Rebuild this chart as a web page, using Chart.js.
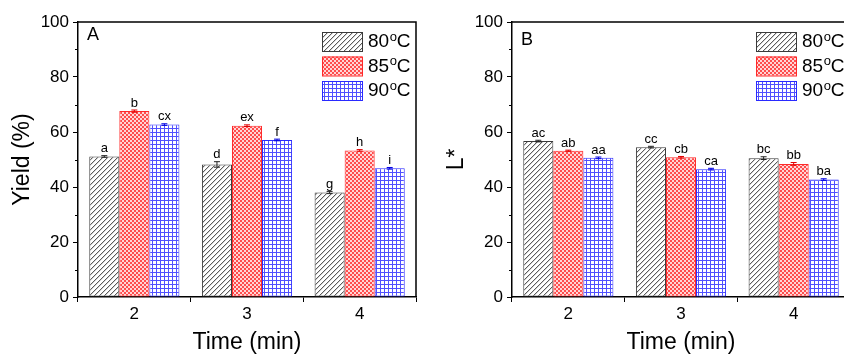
<!DOCTYPE html>
<html>
<head>
<meta charset="utf-8">
<script src="https://cdn.jsdelivr.net/npm/chart.js@4/dist/chart.umd.min.js"></script>
<style>
  html, body { margin:0; padding:0; background:#fff; width:844px; height:356px; overflow:hidden; }
  .panel { position:absolute; top:0; width:420px; height:356px; }
  #pA { left:0; }
  #pB { left:434px; }
</style>
</head>
<body>
<div class="panel" id="pA"><canvas id="cA" width="420" height="356"></canvas></div>
<div class="panel" id="pB"><canvas id="cB" width="420" height="356"></canvas></div>
<script>
// ---------- data ----------
const categories = ['2', '3', '4'];
const temps = ['80', '85', '90'];
const seriesLabels = ['80°C', '85°C', '90°C'];
const yTicks = [0, 20, 40, 60, 80, 100];

// Panel A: Yield (%)
const yield80 = [51.1, 48.2, 38.0];
const yield85 = [67.6, 62.3, 53.3];
const yield90 = [62.7, 57.1, 46.8];
const yieldErr80 = [0.3, 1.0, 0.4];
const yieldErr85 = [0.4, 0.3, 0.3];
const yieldErr90 = [0.3, 0.3, 0.3];
const yieldLetters80 = ['a', 'd', 'g'];
const yieldLetters85 = ['b', 'ex', 'h'];
const yieldLetters90 = ['cx', 'f', 'i'];

// Panel B: L*
const L80 = [56.7, 54.5, 50.5];
const L85 = [53.2, 50.8, 48.4];
const L90 = [50.6, 46.5, 42.7];
const LErr80 = [0.3, 0.3, 0.5];
const LErr85 = [0.2, 0.3, 0.5];
const LErr90 = [0.3, 0.3, 0.3];
const LLetters80 = ['ac', 'cc', 'bc'];
const LLetters85 = ['ab', 'cb', 'bb'];
const LLetters90 = ['aa', 'ca', 'ba'];

// ---------- styles ----------
const FONT = '"Liberation Sans", Arial, sans-serif';
const borderColors = ['#3a3a3a', '#ff2a2a', '#2a2aff'];
const errColors = ['#222222', '#e00000', '#0000e0'];

function makeTile(draw, w, h) {
  const c = document.createElement('canvas');
  c.width = w; c.height = h;
  const x = c.getContext('2d');
  draw(x);
  return c;
}
const hatchTile = makeTile(x => {
  x.fillStyle = '#ffffff'; x.fillRect(0, 0, 5, 5);
  for (let i = 0; i < 5; i++) {
    x.fillStyle = '#5a5a5a'; x.fillRect(i, 4 - i, 1, 1);
    x.fillStyle = '#d4d4d4'; x.fillRect(i, (5 - i) % 5, 1, 1);
  }
}, 5, 5);
const checkTile = makeTile(x => {
  x.fillStyle = '#ffd6d6'; x.fillRect(0, 0, 4, 4);
  x.fillStyle = '#ff4d4d'; x.fillRect(0, 0, 2, 2); x.fillRect(2, 2, 2, 2);
}, 4, 4);
const gridTile = makeTile(x => {
  x.fillStyle = '#ffffff'; x.fillRect(0, 0, 4, 4);
  x.fillStyle = '#5050ff'; x.fillRect(0, 0, 4, 1); x.fillRect(0, 0, 1, 4);
}, 4, 4);

function patterns(ctx) {
  return [
    ctx.createPattern(hatchTile, 'repeat'),
    ctx.createPattern(checkTile, 'repeat'),
    ctx.createPattern(gridTile, 'repeat')
  ];
}

// ---------- plugin: frame, minor ticks, error bars, letters, legend, panel letter ----------
const extrasPlugin = {
  id: 'extras',
  afterDatasetsDraw(chart, args, opts) {
    const ctx = chart.ctx;
    const ys = chart.scales.y;
    ctx.save();
    chart.data.datasets.forEach((ds, di) => {
      const meta = chart.getDatasetMeta(di);
      meta.data.forEach((bar, i) => {
        const v = ds.data[i], e = ds.errors[i];
        const yt = ys.getPixelForValue(v + e), yb = ys.getPixelForValue(v - e);
        ctx.strokeStyle = errColors[di];
        ctx.lineWidth = 1;
        ctx.beginPath();
        ctx.moveTo(bar.x, yt); ctx.lineTo(bar.x, yb);
        ctx.moveTo(bar.x - 3, yt); ctx.lineTo(bar.x + 3, yt);
        ctx.moveTo(bar.x - 3, yb); ctx.lineTo(bar.x + 3, yb);
        ctx.stroke();
        ctx.fillStyle = '#000';
        ctx.font = '13px ' + FONT;
        ctx.textAlign = 'center';
        ctx.textBaseline = 'alphabetic';
        ctx.fillText(ds.letters[i], bar.x, yt - 3.5);
      });
    });
    ctx.restore();
  },
  afterDraw(chart, args, opts) {
    const ctx = chart.ctx;
    const a = chart.chartArea;
    const ys = chart.scales.y;
    ctx.save();
    ctx.strokeStyle = '#000';
    ctx.lineWidth = 1.5;
    ctx.beginPath();
    ctx.moveTo(a.left, a.top); ctx.lineTo(a.right, a.top); ctx.lineTo(a.right, a.bottom);
    ctx.stroke();
    ctx.lineWidth = 1;
    ctx.beginPath();
    for (let v = 10; v < 100; v += 20) {
      const y = Math.round(ys.getPixelForValue(v)) + 0.5;
      ctx.moveTo(a.left - 3, y); ctx.lineTo(a.left, y);
    }
    ctx.stroke();
    ctx.fillStyle = '#000';
    ctx.font = '18px ' + FONT;
    ctx.textAlign = 'left';
    ctx.textBaseline = 'middle';
    ctx.fillText(opts.panel, a.left + 9, opts.panelY);
    const pats = patterns(ctx);
    chart.data.datasets.forEach((ds, di) => {
      const bx = a.left + 244, by = 32 + di * 24.5;
      ctx.fillStyle = pats[di];
      ctx.fillRect(bx, by, 40, 19);
      ctx.strokeStyle = borderColors[di];
      ctx.lineWidth = 1;
      ctx.strokeRect(bx + 0.5, by + 0.5, 40, 19);
      const cy = by + 10;
      let tx = bx + 46;
      ctx.fillStyle = '#000';
      ctx.textAlign = 'left';
      ctx.textBaseline = 'middle';
      ctx.font = '19px ' + FONT;
      ctx.fillText(temps[di], tx, cy);
      tx += ctx.measureText(temps[di]).width + 0.5;
      ctx.font = '13px ' + FONT;
      ctx.fillText('o', tx, cy - 5);
      tx += ctx.measureText('o').width;
      ctx.font = '19px ' + FONT;
      ctx.fillText('C', tx, cy);
    });
    ctx.restore();
  }
};

function makeChart(canvasId, yTitle, vals, errs, letters, panel, panelY) {
  const ctx = document.getElementById(canvasId).getContext('2d');
  const pats = patterns(ctx);
  return new Chart(ctx, {
    type: 'bar',
    data: {
      labels: categories,
      datasets: vals.map((d, i) => ({
        label: seriesLabels[i],
        data: d,
        errors: errs[i],
        letters: letters[i],
        backgroundColor: pats[i],
        borderColor: borderColors[i],
        borderWidth: 1,
        borderSkipped: false,
        categoryPercentage: 0.8,
        barPercentage: 1.0
      }))
    },
    options: {
      responsive: false,
      animation: false,
      devicePixelRatio: 1,
      layout: { padding: { top: 22, right: 4, left: 0, bottom: 0 } },
      plugins: {
        legend: { display: false },
        tooltip: { enabled: false },
        extras: { panel: panel, panelY: panelY }
      },
      scales: {
        x: {
          type: 'category',
          offset: true,
          grid: { display: true, drawOnChartArea: false, drawTicks: true, tickLength: 5, color: '#000', offset: true, lineWidth: 1 },
          border: { display: true, color: '#000', width: 1.5 },
          ticks: { color: '#000', font: { family: FONT, size: 17 }, padding: 2 },
          title: { display: true, text: 'Time (min)', color: '#000', font: { family: FONT, size: 23 }, padding: { top: 0, bottom: 0 } },
          afterFit(s) { s.height = 59; }
        },
        y: {
          min: 0, max: 100,
          afterBuildTicks(s) { s.ticks = yTicks.map(v => ({ value: v })); },
          grid: { display: true, drawOnChartArea: false, drawTicks: true, tickLength: 5, color: '#000', lineWidth: 1 },
          border: { display: true, color: '#000', width: 1.5 },
          ticks: { color: '#000', font: { family: FONT, size: 17 }, padding: 4 },
          title: { display: true, text: yTitle, color: '#000', font: { family: FONT, size: 23 }, padding: { top: 9, bottom: 0 } },
          afterFit(s) { s.width = 78; }
        }
      }
    },
    plugins: [extrasPlugin]
  });
}

makeChart('cA', 'Yield (%)',
  [yield80, yield85, yield90],
  [yieldErr80, yieldErr85, yieldErr90],
  [yieldLetters80, yieldLetters85, yieldLetters90], 'A', 35);
makeChart('cB', 'L*',
  [L80, L85, L90],
  [LErr80, LErr85, LErr90],
  [LLetters80, LLetters85, LLetters90], 'B', 40);
</script>
</body>
</html>
